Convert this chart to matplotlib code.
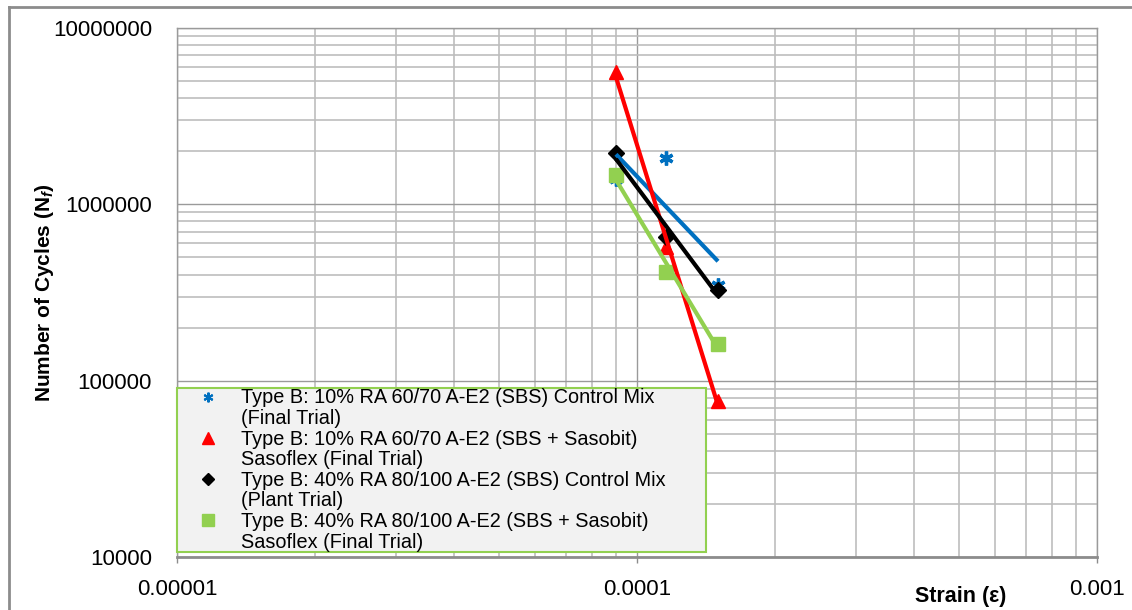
import numpy as np
import matplotlib
matplotlib.use('Agg')
import matplotlib.pyplot as plt
from matplotlib.lines import Line2D
from matplotlib.ticker import LogLocator, NullFormatter

# ---------------- data ----------------
strain = [9.0e-5, 1.155e-4, 1.5e-4]
cycles_blue = [1.39e6, 1.83e6, 3.49e5]
cycles_red = [5.62e6, 5.73e5, 7.7e4]
cycles_black = [1.95e6, 6.53e5, 3.27e5]
cycles_green = [1.47e6, 4.13e5, 1.61e5]

label_line1 = ["Type B: 10% RA 60/70 A-E2 (SBS) Control Mix",
               "Type B: 10% RA 60/70 A-E2 (SBS + Sasobit)",
               "Type B: 40% RA 80/100 A-E2 (SBS) Control Mix",
               "Type B: 40% RA 80/100 A-E2 (SBS + Sasobit)"]
label_line2 = ["(Final Trial)",
               "Sasoflex (Final Trial)",
               "(Plant Trial)",
               "Sasoflex (Final Trial)"]

x_ticks = [1e-5, 1e-4, 1e-3]
x_tick_labels = ['0.00001', '0.0001', '0.001']
y_ticks = [1e4, 1e5, 1e6, 1e7]
y_tick_labels = ['10000', '100000', '1000000', '10000000']

# ---------------- style ----------------
plt.rcParams['font.family'] = ['Liberation Sans', 'DejaVu Sans']
plt.rcParams['mathtext.fontset'] = 'custom'
plt.rcParams['mathtext.it'] = 'Liberation Sans:italic:bold'
plt.rcParams['mathtext.rm'] = 'Liberation Sans:bold'

colors = ['#0070c0', '#ff0000', '#000000', '#92d050']
markers = [(6, 2, 0), '^', 'D', 's']
msizes = [10, 10, 8, 10]
series = [cycles_blue, cycles_red, cycles_black, cycles_green]

fig = plt.figure(figsize=(11.32, 6.10), dpi=100)
ax = fig.add_axes([177/1132, 1-557/610, 920/1132, 529/610])
ax.set_xscale('log')
ax.set_yscale('log')
ax.set_xlim(1e-5, 1e-3)
ax.set_ylim(1e4, 1e7)

ax.xaxis.set_minor_locator(LogLocator(base=10, subs=np.arange(2, 10)))
ax.yaxis.set_minor_locator(LogLocator(base=10, subs=np.arange(2, 10)))
ax.xaxis.set_minor_formatter(NullFormatter())
ax.yaxis.set_minor_formatter(NullFormatter())
ax.set_xticks(x_ticks, x_tick_labels)
ax.set_yticks(y_ticks, y_tick_labels)

ax.grid(True, which='major', color='#9a9a9a', lw=1.0)
ax.grid(True, which='minor', color='#bdbdbd', lw=1.2)
ax.set_axisbelow(True)

for s in ['top', 'right', 'left']:
    ax.spines[s].set_color('#9a9a9a')
    ax.spines[s].set_linewidth(1.0)
ax.spines['bottom'].set_color('#8c8c8c')
ax.spines['bottom'].set_linewidth(2.0)

ax.tick_params(axis='x', which='major', length=4.5, width=1, color='#8c8c8c',
               pad=11, labelsize=16, direction='out')
ax.tick_params(axis='y', which='major', length=0, pad=18, labelsize=16)
ax.tick_params(which='minor', length=0)

# markers
for ys, c, m, ms in zip(series, colors, markers, msizes):
    if m == (6, 2, 0):
        ax.plot(strain, ys, ls='none', marker=m, ms=ms, mew=2.4, color=c, zorder=3)
    else:
        ax.plot(strain, ys, ls='none', marker=m, ms=ms, color=c, mec=c, zorder=3)

# power trendlines (linear fit in log-log space)
lx = np.log10(strain)
xe = np.array([min(strain), max(strain)])
for ys, c in zip(series, colors):
    k, b = np.polyfit(lx, np.log10(ys), 1)
    ax.plot(xe, 10 ** (b + k * np.log10(xe)), color=c, lw=3.0, zorder=4,
            solid_capstyle='butt')

# legend (two text rows per series)
handles, labels = [], []
leg_ms = [7, 8, 6, 8]
for c, m, ms, l1, l2 in zip(colors, markers, leg_ms, label_line1, label_line2):
    if m == (6, 2, 0):
        h = Line2D([], [], ls='none', marker=m, ms=ms, mew=1.5, color=c)
    else:
        h = Line2D([], [], ls='none', marker=m, ms=ms, color=c, mec=c)
    handles += [h, Line2D([], [], ls='none')]
    labels += [l1, l2]

leg = ax.legend(handles, labels, loc='lower left',
                bbox_to_anchor=(0, 5/529, 0.575, 0.3),
                mode='expand', borderaxespad=0, frameon=True, fancybox=False,
                facecolor='#f2f2f2', edgecolor='#92d050', framealpha=1,
                prop={'family': 'Liberation Sans', 'size': 14.3},
                labelspacing=0.08, borderpad=0.02, handlelength=3.1,
                handletextpad=0.1)
leg.get_frame().set_linewidth(1.5)

ax.set_ylabel('Number of Cycles (N$_f$)', fontsize=15, fontweight='bold')
ax.yaxis.set_label_coords(-0.131, 0.5)
ax.set_xlabel('Strain (ε)', fontsize=15.5, fontweight='bold', va='bottom')
ax.xaxis.set_label_coords(0.852, -(607 - 557) / 529)

# outer chart-area frame
fig.add_artist(Line2D([9/1132, 9/1132], [0, 1-7/610], color='#8c8c8c', lw=2,
                      transform=fig.transFigure))
fig.add_artist(Line2D([9/1132, 1], [1-7/610, 1-7/610], color='#8c8c8c', lw=2,
                      transform=fig.transFigure))

fig.savefig('out.png', dpi=100)
